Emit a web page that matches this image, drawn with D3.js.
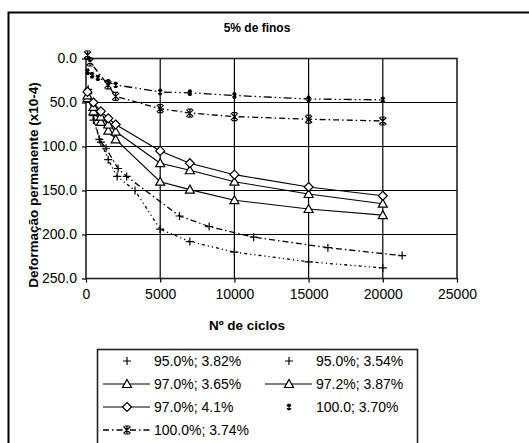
<!DOCTYPE html>
<html>
<head>
<meta charset="utf-8">
<script src="https://cdn.jsdelivr.net/npm/d3@7"></script>
<style>
  html, body { margin: 0; padding: 0; background: #fff; }
  svg { display: block; }
  text { font-family: "Liberation Sans", Arial, sans-serif; fill: #000; }
</style>
</head>
<body>
<svg id="chart" width="529" height="443"></svg>
<script>
// Permanent deformation (x10^-4) against number of load cycles, 5% fines
const xTicks = [0, 5000, 10000, 15000, 20000, 25000];
const yTicks = [0, 50, 100, 150, 200, 250];

const cycles382 = [150, 500, 900, 1350, 2160, 2740, 6300, 8300, 11300, 16300, 21300];
const def382    = [35, 65, 92, 102, 125, 134, 179, 191, 203, 215, 224];

const cycles354 = [150, 500, 1000, 1500, 2100, 3300, 5000, 7000, 10000, 15000, 20000];
const def354    = [40, 70, 95, 115, 134, 150, 194, 208, 220, 231, 238];

const cycles365 = [100, 500, 1000, 1500, 2000, 5000, 7000, 10000, 15000, 20000];
const def365    = [45, 60, 72, 82, 92, 140, 149, 161, 171, 178];

const cycles387 = [100, 500, 1000, 1500, 2000, 5000, 7000, 10000, 15000, 20000];
const def387    = [42, 55, 66, 75, 83, 119, 127, 140, 154, 165];

const cycles41  = [100, 500, 1000, 1500, 2000, 5000, 7000, 10000, 15000, 20000];
const def41     = [38, 50, 60, 68, 75, 105, 119, 132, 146, 156];

const cycles370 = [100, 400, 800, 1500, 2000, 5000, 7000, 10000, 15000, 20000];
const def370    = [15, 19, 22, 27, 30, 38, 39, 42, 46, 47];

const cycles374 = [100, 270, 1480, 2000, 5000, 7000, 10000, 15000, 20000];
const def374    = [-4, 4, 30, 43, 57, 62, 66, 69, 71];

const seriesNames = ["95.0%; 3.82%", "95.0%; 3.54%", "97.0%; 3.65%", "97.2%; 3.87%",
                     "97.0%; 4.1%", "100.0; 3.70%", "100.0%; 3.74%"];

const series = [
  { name: seriesNames[0], xs: cycles382, ys: def382, marker: "plus",     dash: "6,3,1.5,3", width: 1.3, legendLine: false },
  { name: seriesNames[1], xs: cycles354, ys: def354, marker: "plus",     dash: "3,3,1.2,3,1.2,3", width: 1.3, legendLine: false },
  { name: seriesNames[2], xs: cycles365, ys: def365, marker: "triangle", dash: null, width: 1.1, legendLine: true },
  { name: seriesNames[3], xs: cycles387, ys: def387, marker: "triangle", dash: null, width: 1.1, legendLine: true },
  { name: seriesNames[4], xs: cycles41,  ys: def41,  marker: "diamond",  dash: null, width: 1.1, legendLine: true },
  { name: seriesNames[5], xs: cycles370, ys: def370, marker: "smallstar", dash: "8,3,1.5,3,1.5,3", width: 1.3, legendLine: false },
  { name: seriesNames[6], xs: cycles374, ys: def374, marker: "star",     dash: "6,3,1.5,3", width: 1.3, legendLine: true }
];

const svg = d3.select("#chart");

// outer frame
svg.append("rect")
  .attr("x", 8.5).attr("y", 12.5)
  .attr("width", 540).attr("height", 460)
  .attr("fill", "none").attr("stroke", "#000").attr("stroke-width", 2);

const x = d3.scaleLinear().domain([0, 25000]).range([86, 457]);
const y = d3.scaleLinear().domain([0, 250]).range([58.5, 278.5]);

// title
svg.append("text")
  .attr("x", 257).attr("y", 32)
  .attr("text-anchor", "middle")
  .attr("font-size", 12).attr("font-weight", "bold")
  .text("5% de finos");

// grid
const grid = svg.append("g");
grid.selectAll("line.gx").data(xTicks.slice(1, -1)).join("line")
  .attr("x1", d => x(d)).attr("x2", d => x(d))
  .attr("y1", y(0)).attr("y2", y(250))
  .attr("stroke", "#000").attr("stroke-width", 1.2);
grid.selectAll("line.gy").data(yTicks.slice(1, -1)).join("line")
  .attr("x1", x(0)).attr("x2", x(25000))
  .attr("y1", d => y(d)).attr("y2", d => y(d))
  .attr("stroke", "#000").attr("stroke-width", 1.2);

// plot frame
svg.append("rect")
  .attr("x", x(0)).attr("y", y(0))
  .attr("width", x(25000) - x(0)).attr("height", y(250) - y(0))
  .attr("fill", "none").attr("stroke", "#222").attr("stroke-width", 1.6);

// axes
const xAxis = d3.axisBottom(x).tickValues(xTicks).tickSize(4).tickPadding(7)
  .tickFormat(d3.format("d"));
const gx = svg.append("g").attr("transform", `translate(0,${y(250)})`).call(xAxis);
const yAxis = d3.axisLeft(y).tickValues(yTicks).tickSize(4).tickPadding(5)
  .tickFormat(d3.format(".1f"));
const gy = svg.append("g").attr("transform", `translate(${x(0)},0)`).call(yAxis);
[gx, gy].forEach(g => {
  g.select(".domain").remove();
  g.selectAll(".tick line").attr("stroke", "#000").attr("stroke-width", 1.2);
  g.selectAll(".tick text").attr("font-size", 14)
    .attr("font-family", "'Liberation Sans', Arial, sans-serif").attr("fill", "#000");
});

// axis titles
svg.append("text")
  .attr("x", 247).attr("y", 330)
  .attr("text-anchor", "middle")
  .attr("font-size", 13.5).attr("font-weight", "bold")
  .text("Nº de ciclos");
svg.append("text")
  .attr("transform", "translate(38,185) rotate(-90)")
  .attr("text-anchor", "middle")
  .attr("font-size", 13.5).attr("font-weight", "bold")
  .text("Deformação permanente (x10-4)");

// marker shapes
function markerPath(kind) {
  switch (kind) {
    case "plus": return "M-4,0H4M0,-4V4";
    case "triangle": return "M0,-4.5L4.5,3.5H-4.5Z";
    case "diamond": return "M0,-4.5L4.5,0L0,4.5L-4.5,0Z";
    case "star": return "M-3.5,-3.5L3.5,3.5M-3.5,3.5L3.5,-3.5M0,-4V4M-2.5,-4H2.5M-2.5,4H2.5";
    case "smallstar": return "M-2,-2L2,2M-2,2L2,-2M0,-2.5V2.5M-1.5,-2.5H1.5M-1.5,2.5H1.5";
  }
}
function drawMarker(g, kind, cx, cy) {
  const filled = kind === "triangle" || kind === "diamond";
  g.append("path")
    .attr("transform", `translate(${cx},${cy})`)
    .attr("d", markerPath(kind))
    .attr("fill", filled ? "#fff" : "none")
    .attr("stroke", "#000")
    .attr("stroke-width", kind === "smallstar" ? 1.4 : 1.2);
}

// series lines and markers
const line = d3.line().x(d => x(d[0])).y(d => y(d[1]));
const plot = svg.append("g");
series.forEach(s => {
  const pts = s.xs.map((c, i) => [c, s.ys[i]]);
  plot.append("path")
    .attr("d", line(pts))
    .attr("fill", "none")
    .attr("stroke", "#000")
    .attr("stroke-width", s.width)
    .attr("stroke-dasharray", s.dash);
});
series.forEach(s => {
  s.xs.forEach((c, i) => drawMarker(plot, s.marker, x(c), y(s.ys[i])));
});

// legend
const legend = svg.append("g");
legend.append("rect")
  .attr("x", 97.5).attr("y", 349.5)
  .attr("width", 320).attr("height", 120)
  .attr("fill", "#fff").attr("stroke", "#222").attr("stroke-width", 1.6);
const colX = [103, 265];
const rowY = [361, 384, 407, 430];
series.forEach((s, i) => {
  const col = i % 2, row = Math.floor(i / 2);
  const lx = colX[col], ly = rowY[row];
  if (s.legendLine) {
    legend.append("line")
      .attr("x1", lx).attr("x2", lx + 47)
      .attr("y1", ly).attr("y2", ly)
      .attr("stroke", "#000").attr("stroke-width", s.width)
      .attr("stroke-dasharray", s.dash);
  }
  drawMarker(legend, s.marker, lx + 24, ly);
  legend.append("text")
    .attr("x", lx + 51).attr("y", ly + 5)
    .attr("font-size", 14)
    .text(s.name);
});
</script>
</body>
</html>
